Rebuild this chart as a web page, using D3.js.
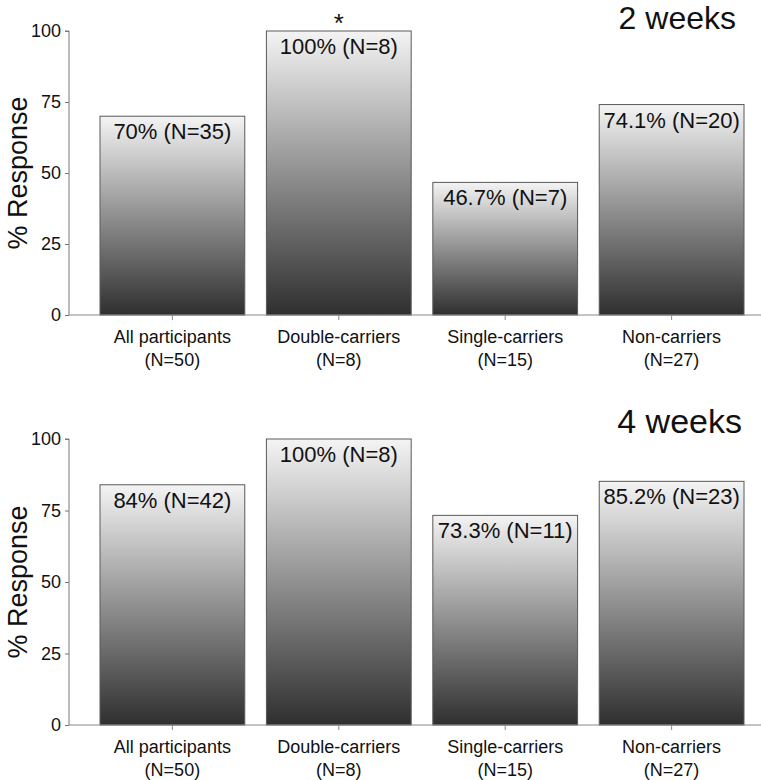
<!DOCTYPE html>
<html>
<head>
<meta charset="utf-8">
<script src="https://cdn.jsdelivr.net/npm/d3@7"></script>
<style>
  html, body { margin: 0; padding: 0; background: #fff; }
  svg { display: block; font-family: "Liberation Sans", Arial, sans-serif; }
</style>
</head>
<body>
<div id="chart"></div>
<script>
const categories = ["All participants", "Double-carriers", "Single-carriers", "Non-carriers"];
const categoryN = ["(N=50)", "(N=8)", "(N=15)", "(N=27)"];
const week2Values = [70, 100, 46.7, 74.1];
const week2Labels = ["70% (N=35)", "100% (N=8)", "46.7% (N=7)", "74.1% (N=20)"];
const week2Stars = ["", "*", "", ""];
const week4Values = [84, 100, 73.3, 85.2];
const week4Labels = ["84% (N=42)", "100% (N=8)", "73.3% (N=11)", "85.2% (N=23)"];
const week4Stars = ["", "", "", ""];
const yTicks = [0, 25, 50, 75, 100];
const panelTitles = ["2 weeks", "4 weeks"];
const yTitle = "% Response";

const W = 761, H = 780;
const svg = d3.select("#chart").append("svg").attr("width", W).attr("height", H);

const defs = svg.append("defs");
const grad = defs.append("linearGradient").attr("id", "barGrad")
  .attr("x1", 0).attr("y1", 0).attr("x2", 0).attr("y2", 1);
grad.append("stop").attr("offset", "0%").attr("stop-color", "#f4f4f4");
grad.append("stop").attr("offset", "50%").attr("stop-color", "#909090");
grad.append("stop").attr("offset", "100%").attr("stop-color", "#2f2f2f");

const x = d3.scaleBand().domain(categories).range([100, 744]).paddingInner(0.13).paddingOuter(0);

const panels = [
  { values: week2Values, labels: week2Labels, stars: week2Stars, title: panelTitles[0], y0: 315, y1: 31, titleY: 29, titleX: 736, titleSize: 32 },
  { values: week4Values, labels: week4Labels, stars: week4Stars, title: panelTitles[1], y0: 725, y1: 439, titleY: 433, titleX: 742, titleSize: 34 }
];

panels.forEach(p => {
  const g = svg.append("g");
  const y = d3.scaleLinear().domain([0, 100]).range([p.y0, p.y1]);
  const axisLeftX = 69;

  const data = categories.map((c, i) => ({ c, v: p.values[i], label: p.labels[i], star: p.stars[i] }));
  g.selectAll("rect.bar").data(data).join("rect")
    .attr("class", "bar")
    .attr("x", d => x(d.c))
    .attr("y", d => y(d.v))
    .attr("width", x.bandwidth())
    .attr("height", d => y(0) - y(d.v))
    .attr("fill", "url(#barGrad)")
    .attr("stroke", "#5a5a5a")
    .attr("stroke-width", 1);

  g.selectAll("text.val").data(data).join("text")
    .attr("class", "val")
    .attr("x", d => x(d.c) + x.bandwidth() / 2)
    .attr("y", d => y(d.v) + 23)
    .attr("text-anchor", "middle")
    .attr("font-size", 22)
    .attr("fill", "#111")
    .text(d => d.label);

  g.selectAll("text.star").data(data.filter(d => d.star)).join("text")
    .attr("class", "star")
    .attr("x", d => x(d.c) + x.bandwidth() / 2)
    .attr("y", d => y(d.v) + 1)
    .attr("text-anchor", "middle")
    .attr("font-size", 26)
    .attr("fill", "#111")
    .text(d => d.star);

  const yAxis = d3.axisLeft(y).tickValues(yTicks).tickSize(4).tickPadding(4).tickFormat(d3.format("d"));
  const ya = g.append("g").attr("transform", `translate(${axisLeftX},0)`).call(yAxis);
  ya.select(".domain").attr("stroke", "#777").attr("d", `M-4,${p.y1}H0V${p.y0}`);
  ya.selectAll(".tick line").attr("stroke", "#777");
  ya.selectAll(".tick text").attr("font-size", 18).attr("fill", "#111")
    .attr("font-family", "'Liberation Sans', Arial, sans-serif");

  const xAxis = d3.axisBottom(x).tickSize(5).tickFormat(() => "");
  const xa = g.append("g").attr("transform", `translate(0,${p.y0})`).call(xAxis);
  xa.select(".domain").attr("stroke", "#888").attr("d", `M${axisLeftX},0H${W}`);
  xa.selectAll(".tick line").attr("stroke", "#888");

  const lab = g.selectAll("text.cat").data(categories).join("text")
    .attr("class", "cat")
    .attr("text-anchor", "middle")
    .attr("font-size", 18)
    .attr("fill", "#111");
  lab.append("tspan").attr("x", d => x(d) + x.bandwidth() / 2).attr("y", p.y0 + 28).text(d => d);
  lab.append("tspan").attr("x", d => x(d) + x.bandwidth() / 2).attr("y", p.y0 + 51).text((d, i) => categoryN[i]);

  g.append("text")
    .attr("transform", `translate(27,${(p.y0 + p.y1) / 2}) rotate(-90)`)
    .attr("text-anchor", "middle")
    .attr("font-size", 27)
    .attr("fill", "#111")
    .text(yTitle);

  g.append("text")
    .attr("x", p.titleX).attr("y", p.titleY)
    .attr("text-anchor", "end")
    .attr("font-size", p.titleSize)
    .attr("fill", "#111")
    .text(p.title);
});
</script>
</body>
</html>
